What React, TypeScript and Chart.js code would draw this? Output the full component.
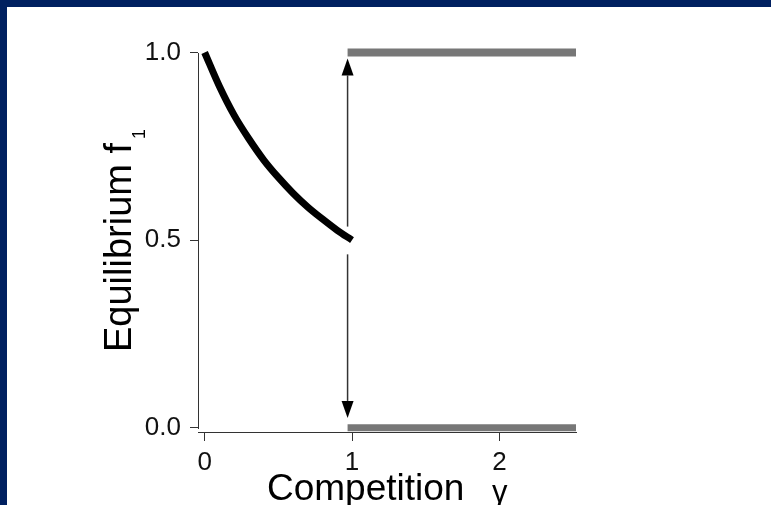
import React, { useEffect, useRef } from "react";
import { Chart, registerables } from "chart.js";

Chart.register(...registerables);

// ---- data ----
const gammaValues = [0, 0.1, 0.2, 0.3, 0.4, 0.5, 0.6, 0.7, 0.8, 0.9, 1.0];
const equilibriumF1 = [1.0, 0.91, 0.833, 0.77, 0.714, 0.667, 0.625, 0.588, 0.556, 0.526, 0.5];
const upperBranchX = [0.97, 2.52];
const upperBranchY = [1, 1];
const lowerBranchX = [0.97, 2.52];
const lowerBranchY = [0, 0];
const arrowGamma = 0.97;
const arrowUp = [0.536, 0.984]; // start, tip
const arrowDown = [0.462, 0.026]; // start, tip
const xTickValues = [0, 1, 2];
const xTickLabels = ["0", "1", "2"];
const yTickValues = [0, 0.5, 1];
const yTickLabels = ["0.0", "0.5", "1.0"];
const xRange = [-0.045, 2.52];
const yRange = [-0.0115, 1.02];
const xTitle = "Competition";
const xTitleSymbol = "γ";
const yTitle = "Equilibrium f";
const yTitleSub = "1";

const FONT = "'Liberation Sans', Arial, sans-serif";

const overlayPlugin = {
  id: "overlay",
  afterDatasetsDraw(chart: any) {
    const { ctx, chartArea } = chart;
    const x = chart.scales.x;
    const y = chart.scales.y;
    ctx.save();
    // y axis line from 0 to 1
    const axX = Math.round(chartArea.left) + 0.5;
    ctx.strokeStyle = "#333";
    ctx.lineWidth = 1;
    ctx.beginPath();
    ctx.moveTo(axX, Math.round(y.getPixelForValue(yTickValues[yTickValues.length - 1])));
    ctx.lineTo(axX, Math.round(y.getPixelForValue(yTickValues[0])) + 1);
    ctx.stroke();

    // arrows
    const drawArrow = (from: number, tip: number) => {
      const px = x.getPixelForValue(arrowGamma);
      const p0 = y.getPixelForValue(from);
      const p1 = y.getPixelForValue(tip);
      const dir = Math.sign(p1 - p0);
      const headLen = 17;
      const headW = 6;
      ctx.strokeStyle = "#333";
      ctx.lineWidth = 1.5;
      ctx.beginPath();
      ctx.moveTo(px, p0);
      ctx.lineTo(px, p1 - dir * headLen);
      ctx.stroke();
      ctx.fillStyle = "#000";
      ctx.beginPath();
      ctx.moveTo(px, p1);
      ctx.lineTo(px - headW, p1 - dir * headLen);
      ctx.lineTo(px + headW, p1 - dir * headLen);
      ctx.closePath();
      ctx.fill();
    };
    drawArrow(arrowUp[0], arrowUp[1]);
    drawArrow(arrowDown[0], arrowDown[1]);

    // x title
    ctx.fillStyle = "#000";
    ctx.textAlign = "left";
    ctx.textBaseline = "alphabetic";
    ctx.font = `37px ${FONT}`;
    ctx.fillText(xTitle, 267, 500);
    ctx.font = `31px ${FONT}`;
    ctx.fillText(xTitleSymbol, 492, 502);

    // y title
    ctx.save();
    ctx.translate(131, 352);
    ctx.rotate(-Math.PI / 2);
    ctx.font = `38px ${FONT}`;
    ctx.fillText(yTitle, 0, 0);
    const w = ctx.measureText(yTitle).width;
    ctx.font = `18px ${FONT}`;
    ctx.fillText(yTitleSub, w + 4, 14);
    ctx.restore();

    ctx.restore();
  },
};

export default function App() {
  const canvasRef = useRef<HTMLCanvasElement | null>(null);

  useEffect(() => {
    const canvas = canvasRef.current;
    if (!canvas) return;
    const toPts = (xs: number[], ys: number[]) => xs.map((v, i) => ({ x: v, y: ys[i] }));
    const chart = new Chart(canvas, {
      type: "scatter",
      data: {
        datasets: [
          {
            data: toPts(upperBranchX, upperBranchY),
            showLine: true,
            borderColor: "#777777",
            borderWidth: 8,
            pointRadius: 0,
            clip: false as any,
          },
          {
            data: toPts(lowerBranchX, lowerBranchY),
            showLine: true,
            borderColor: "#777777",
            borderWidth: 7,
            pointRadius: 0,
            clip: false as any,
          },
          {
            data: toPts(gammaValues, equilibriumF1),
            showLine: true,
            borderColor: "#000000",
            borderWidth: 7,
            pointRadius: 0,
            tension: 0.4,
            cubicInterpolationMode: "monotone",
            clip: false as any,
          },
        ],
      },
      options: {
        animation: false,
        responsive: false,
        maintainAspectRatio: false,
        devicePixelRatio: 1,
        layout: { padding: { left: 98, right: 195, top: 45, bottom: 23 } },
        plugins: { legend: { display: false }, tooltip: { enabled: false }, title: { display: false } },
        scales: {
          x: {
            type: "linear",
            min: xRange[0],
            max: xRange[1],
            afterFit: (s: any) => {
              s.height = 50;
            },
            afterBuildTicks: (s: any) => {
              s.ticks = xTickValues.map((v) => ({ value: v }));
            },
            ticks: {
              callback: (v: any) => {
                const i = xTickValues.indexOf(Number(v));
                return i >= 0 ? xTickLabels[i] : "";
              },
              font: { family: FONT, size: 26 },
              color: "#111",
              padding: 6,
              maxRotation: 0,
              autoSkip: false,
            },
            grid: { display: true, drawOnChartArea: false, drawTicks: true, tickLength: 9, color: "#333", tickColor: "#333" },
            border: { display: true, color: "#333", width: 1 },
          },
          y: {
            type: "linear",
            min: yRange[0],
            max: yRange[1],
            afterFit: (s: any) => {
              s.width = 100;
            },
            afterBuildTicks: (s: any) => {
              s.ticks = yTickValues.map((v) => ({ value: v }));
            },
            ticks: {
              callback: (v: any) => {
                const i = yTickValues.indexOf(Number(v));
                return i >= 0 ? yTickLabels[i] : "";
              },
              font: { family: FONT, size: 26 },
              color: "#111",
              padding: 9,
              autoSkip: false,
            },
            grid: { display: true, drawOnChartArea: false, drawTicks: true, tickLength: 8, color: "#333", tickColor: "#333" },
            border: { display: false },
          },
        },
      },
      plugins: [overlayPlugin],
    } as any);
    return () => chart.destroy();
  }, []);

  return (
    <div style={{ position: "fixed", left: 0, top: 0, width: 771, height: 505, background: "#002060", overflow: "hidden" }}>
      <div style={{ position: "absolute", left: 7, top: 7, width: 764, height: 498, background: "#ffffff" }} />
      <canvas ref={canvasRef} width={771} height={505} style={{ position: "absolute", left: 0, top: 0, width: 771, height: 505 }} />
    </div>
  );
}
